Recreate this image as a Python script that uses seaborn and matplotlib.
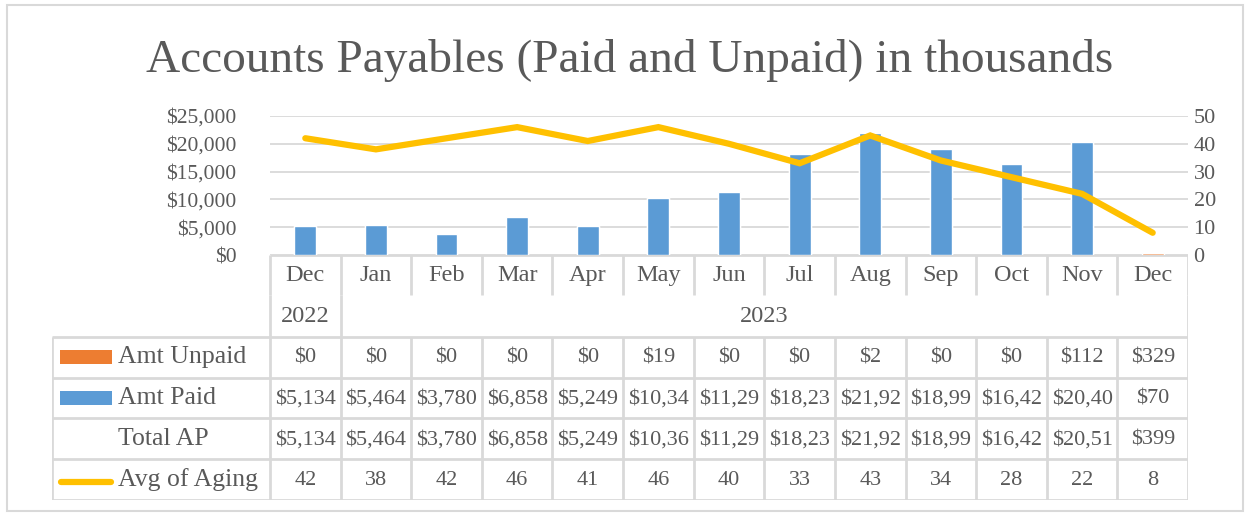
import numpy as np
import pandas as pd
import matplotlib
matplotlib.use("Agg")
import matplotlib.pyplot as plt
import seaborn as sns
from matplotlib.patches import Rectangle
from matplotlib.lines import Line2D

# data (thousands)
months = ["Dec", "Jan", "Feb", "Mar", "Apr", "May", "Jun",
          "Jul", "Aug", "Sep", "Oct", "Nov", "Dec"]
years = ["2022"] + ["2023"] * 12
amt_paid = [5134, 5464, 3780, 6858, 5249, 10341, 11290,
            18230, 21920, 18990, 16420, 20400, 70]
amt_unpaid = [0, 0, 0, 0, 0, 19, 0, 0, 2, 0, 0, 112, 329]
avg_aging = [42, 38, 42, 46, 41, 46, 40, 33, 43, 34, 28, 22, 8]

df = pd.DataFrame({
    "idx": np.arange(len(months)),
    "month": months,
    "year": years,
    "paid": amt_paid,
    "unpaid": amt_unpaid,
    "aging": avg_aging,
})
df["total"] = df["paid"] + df["unpaid"]

BLUE = "#5B9BD5"
ORANGE = "#ED7D31"
YELLOW = "#FFC000"
TXT = "#595959"
GRID = "#D9D9D9"

sns.set_style("white")
plt.rcParams["font.family"] = ["Liberation Serif", "DejaVu Serif"]
plt.rcParams["text.color"] = TXT

W, H = 1250, 516
fig = plt.figure(figsize=(W / 100, H / 100), dpi=100)

# pixel layout
x_plot0, x_plot1 = 270, 1188
y_top, y_axis, y_tab_end = 116, 255, 500
x_tab0 = 52
n = len(months)
col_w = (x_plot1 - x_plot0) / n


def fx(px):
    return px / W


def fy(py):
    return 1 - py / H


ax = fig.add_axes([fx(x_plot0), fy(y_axis), fx(x_plot1 - x_plot0), (y_axis - y_top) / H])

# stacked bars: total (orange) behind paid (blue)
sns.barplot(data=df, x="idx", y="total", color=ORANGE, saturation=1, width=0.31, ax=ax)
sns.barplot(data=df, x="idx", y="paid", color=BLUE, saturation=1, width=0.31, ax=ax)
ax.set_xlim(-0.5, n - 0.5)
ax.set_ylim(0, 25000)
ax.set_yticks(np.arange(0, 25001, 5000))
ax.set_yticklabels([f"${v:,.0f}" for v in np.arange(0, 25001, 5000)])
ax.set_xticks([])
ax.set_xlabel("")
ax.set_ylabel("")
ax.grid(axis="y", color=GRID, lw=1.3)
ax.set_axisbelow(True)
for s in ax.spines.values():
    s.set_visible(False)
ax.tick_params(axis="y", length=0, pad=24, labelsize=15.5, labelcolor=TXT)

ax2 = ax.twinx()
sns.lineplot(data=df, x="idx", y="aging", color=YELLOW, lw=4.5, ax=ax2,
             solid_capstyle="round", solid_joinstyle="miter")
ax2.set_ylim(0, 50)
ax2.set_yticks(np.arange(0, 51, 10))
ax2.set_xlim(-0.5, n - 0.5)
ax2.set_xlabel("")
ax2.set_ylabel("")
for s in ax2.spines.values():
    s.set_visible(False)
ax2.tick_params(axis="y", length=0, pad=4, labelsize=16, labelcolor=TXT)

# data table below the plot
leg_w = (x_plot0 - x_tab0) / col_w
tx0 = -0.5 - leg_w
tab = fig.add_axes([fx(x_tab0), fy(y_tab_end), fx(x_plot1 - x_tab0), (y_tab_end - y_axis) / H])
tab.set_xlim(tx0, n - 0.5)
tab.set_ylim(6, 0)
tab.axis("off")

lc = dict(color=GRID, lw=2, solid_capstyle="butt")
edges = np.arange(n + 1) - 0.5
# month row
for e in edges:
    tab.plot([e, e], [0, 0.97], **lc)
# year row: only group borders
for e in [edges[0], edges[1], edges[-1]]:
    tab.plot([e, e], [0.97, 2], **lc)
# data rows
for e in edges:
    tab.plot([e, e], [2, 6], **lc)
tab.plot([tx0, tx0], [2, 6], **lc)
tab.plot([edges[0], edges[-1]], [0, 0], **lc)
for r in [2, 3, 4, 5, 6]:
    tab.plot([tx0, edges[-1]], [r, r], **lc)

fs = 16
fs_cat = 17.5
for i, row in df.iterrows():
    tab.text(i, 0.5, row["month"], ha="center", va="center", fontsize=fs_cat, color=TXT)
tab.text(0, 1.5, years[0], ha="center", va="center", fontsize=fs_cat, color=TXT)
tab.text((1 + n - 1) / 2, 1.5, years[1], ha="center", va="center", fontsize=fs_cat, color=TXT)


def money(v):
    # excel clips the cell text to the column width
    return f"${v:,.0f}"[:6]


rows = [
    ("Amt Unpaid", [money(v) for v in df["unpaid"]], "patch", ORANGE),
    ("Amt Paid", [money(v) for v in df["paid"]], "patch", BLUE),
    ("Total AP", [money(v) for v in df["total"]], None, None),
    ("Avg of Aging", [str(v) for v in df["aging"]], "line", YELLOW),
]


def px2d(px):
    return tx0 + (px - x_tab0) / col_w


for r, (label, vals, key, kc) in enumerate(rows):
    yc = 2.5 + r
    for i, v in enumerate(vals):
        tab.text(i, yc + 0.02, v, ha="center", va="center", fontsize=fs, color=TXT)
    tab.text(px2d(118), yc, label, ha="left", va="center", fontsize=18.5, color=TXT)
    if key == "patch":
        tab.add_patch(Rectangle((px2d(60), yc - 0.17), px2d(112) - px2d(60), 0.34,
                                color=kc, lw=0))
    elif key == "line":
        tab.add_line(Line2D([px2d(61), px2d(111)], [yc + 0.05, yc + 0.05], color=kc, lw=4.5,
                            solid_capstyle="round"))

fig.text(fx(630), fy(60), "Accounts Payables (Paid and Unpaid) in thousands",
         ha="center", va="center", fontsize=34, color=TXT)

# chart border
fig.add_artist(Rectangle((fx(7), fy(511)), fx(1236), (511 - 5) / H,
                         transform=fig.transFigure, fill=False, ec=GRID, lw=1.5))

fig.savefig("out.png", dpi=100)
